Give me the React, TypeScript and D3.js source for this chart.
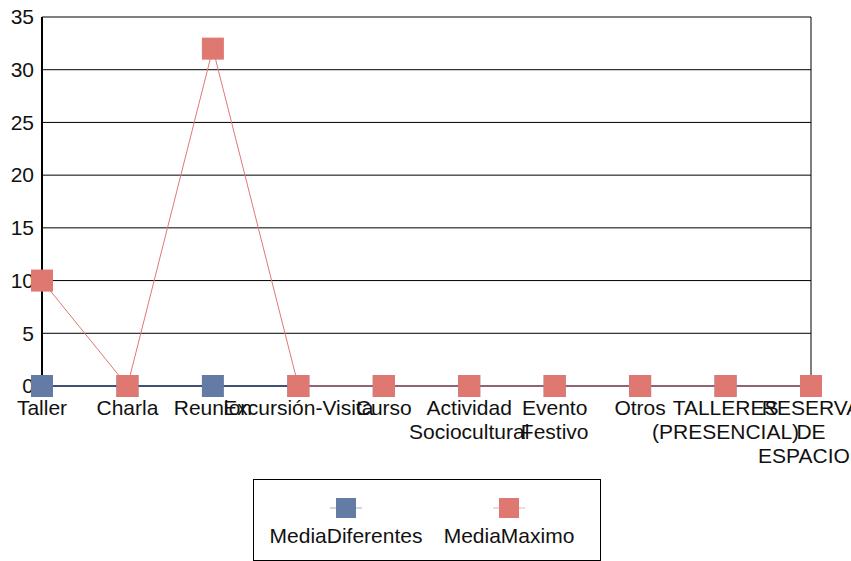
import React from "react";
import * as d3 from "d3";

const categories: string[][] = [
  ["Taller"],
  ["Charla"],
  ["Reunion"],
  ["Excursión-Visita"],
  ["Curso"],
  ["Actividad", "Sociocultural"],
  ["Evento", "Festivo"],
  ["Otros"],
  ["TALLERES", "(PRESENCIAL)"],
  ["RESERVA", "DE", "ESPACIOS"],
];
const mediaDiferentes = [0, 0, 0, 0, 0, 0, 0, 0, 0, 0];
const mediaMaximo = [10, 0, 32, 0, 0, 0, 0, 0, 0, 0];
const yTicks = [0, 5, 10, 15, 20, 25, 30, 35];
const seriesNames = ["MediaDiferentes", "MediaMaximo"];

const W = 851;
const H = 561;
const left = 42;
const right = 811;
const top = 17;
const bottom = 386;
const blue = "#637ba5";
const red = "#e07872";
const font = "'Liberation Sans', Arial, sans-serif";

export default function App() {
  const x = d3.scalePoint<number>().domain(d3.range(categories.length)).range([left, right]);
  const y = d3.scaleLinear().domain([0, 35]).range([bottom, top]);
  const line = d3
    .line<number>()
    .x((_, i) => x(i)!)
    .y((d) => y(d));
  const ms = 22;
  const series = [
    { name: seriesNames[0], values: mediaDiferentes, color: blue },
    { name: seriesNames[1], values: mediaMaximo, color: red },
  ];
  return (
    <svg
      width={W}
      height={H}
      style={{ position: "absolute", left: 0, top: 0, background: "#fff" }}
      fontFamily={font}
    >
      <rect x={0} y={0} width={W} height={H} fill="#fff" />
      {yTicks.map((t) => (
        <g key={t}>
          {t > 0 && (
            <line x1={left} x2={right} y1={y(t)} y2={y(t)} stroke="#000" strokeWidth={1} />
          )}
          <text x={34} y={y(t)} dy="0.35em" fontSize={21} textAnchor="end" fill="#111">
            {t}
          </text>
        </g>
      ))}
      <line x1={right} x2={right} y1={top} y2={bottom} stroke="#000" strokeWidth={1} />
      <line x1={left} x2={left} y1={top} y2={bottom} stroke="#000" strokeWidth={2} />
      <line x1={left} x2={right} y1={bottom} y2={bottom} stroke="#1a2a4a" strokeWidth={2} />
      {categories.map((lines, i) => (
        <text key={i} x={x(i)} y={415} fontSize={21} textAnchor="middle" fill="#111">
          {lines.map((l, j) => (
            <tspan key={j} x={x(i)} dy={j === 0 ? 0 : 24}>
              {l}
            </tspan>
          ))}
        </text>
      ))}
      {series.map((s) => (
        <g key={s.name}>
          <path d={line(s.values)!} fill="none" stroke={s.color} strokeWidth={1} />
          {s.values.map((v, i) => (
            <rect
              key={i}
              x={x(i)! - ms / 2}
              y={y(v) - ms / 2}
              width={ms}
              height={ms}
              fill={s.color}
            />
          ))}
        </g>
      ))}
      <rect x={253.5} y={479.5} width={347} height={81} fill="none" stroke="#000" strokeWidth={1} />
      {series.map((s, i) => {
        const cx = i === 0 ? 346 : 509;
        return (
          <g key={s.name}>
            <line x1={cx - 16} x2={cx + 16} y1={508} y2={508} stroke={s.color} strokeWidth={1} opacity={0.6} />
            <rect x={cx - 10} y={498} width={20} height={20} fill={s.color} />
            <text x={cx} y={543} fontSize={21} textAnchor="middle" fill="#111">
              {s.name}
            </text>
          </g>
        );
      })}
    </svg>
  );
}
